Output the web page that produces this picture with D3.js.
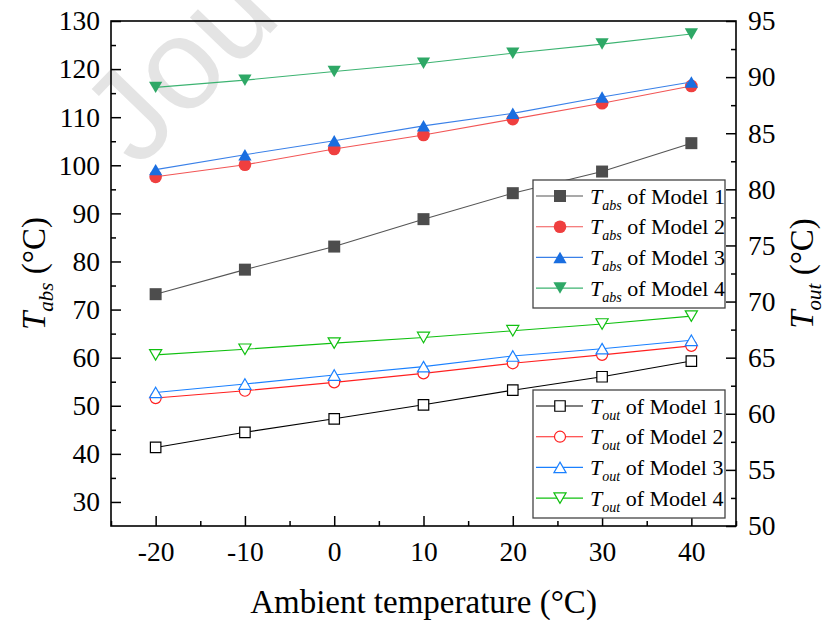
<!DOCTYPE html>
<html>
<head>
<meta charset="utf-8">
<script src="https://cdn.jsdelivr.net/npm/d3@7"></script>
<style>
  body { margin: 0; background: #fff; }
  text { font-family: "Liberation Serif", "Times New Roman", serif; }
</style>
</head>
<body>
<div id="chart"></div>
<script>
// Data
var temps = [-20, -10, 0, 10, 20, 30, 40];
var tabs1 = [73.2, 78.3, 83.1, 88.8, 94.2, 98.7, 104.6];
var tabs2 = [97.6, 100.1, 103.4, 106.3, 109.6, 112.9, 116.5];
var tabs3 = [99.1, 102.2, 105.1, 108.2, 110.8, 114.2, 117.3];
var tabs4 = [116.2, 117.7, 119.5, 121.2, 123.3, 125.2, 127.3];
var tout1 = [57.0, 58.35, 59.55, 60.8, 62.1, 63.3, 64.7];
var tout2 = [61.4, 62.05, 62.8, 63.6, 64.5, 65.25, 66.05];
var tout3 = [61.9, 62.65, 63.45, 64.2, 65.15, 65.8, 66.55];
var tout4 = [65.25, 65.75, 66.3, 66.8, 67.4, 68.0, 68.7];
var models = ["Model 1", "Model 2", "Model 3", "Model 4"];

var xTicks = [-20, -10, 0, 10, 20, 30, 40];
var xMinor = [-25, -15, -5, 5, 15, 25, 35, 45];
var yLeftTicks = [30, 40, 50, 60, 70, 80, 90, 100, 110, 120, 130];
var yLeftMinor = [35, 45, 55, 65, 75, 85, 95, 105, 115, 125];
var yRightTicks = [50, 55, 60, 65, 70, 75, 80, 85, 90, 95];
var yRightMinor = [52.5, 57.5, 62.5, 67.5, 72.5, 77.5, 82.5, 87.5, 92.5];

// SVG area
var svgWidth = 825;
var svgHeight = 620;
var plot = { left: 111, right: 736, top: 21, bottom: 526 };
var tickFont = 27.5;

var svg = d3.select("#chart")
    .append("svg")
    .attr("width", svgWidth)
    .attr("height", svgHeight);

// faint watermark behind everything
svg.append("text")
    .attr("transform", "translate(138,170) rotate(-46)")
    .style("font-family", "'Liberation Sans', Arial, sans-serif")
    .style("font-size", "130px")
    .attr("fill", "#e4e4e4")
    .text("Jou");

// scales
var x = d3.scaleLinear().domain([-25, 45]).range([plot.left, plot.right]);
var yL = d3.scaleLinear().domain([25, 130]).range([plot.bottom, plot.top]);
var yR = d3.scaleLinear().domain([50, 95]).range([plot.bottom, plot.top]);

var fmt = d => String(d);

function styleAxis(g) {
    g.select(".domain").remove();
    g.selectAll(".tick line").attr("stroke", "#000").attr("stroke-width", 1.5);
    g.selectAll(".tick text").attr("fill", "#000")
        .style("font-family", "'Liberation Serif', 'Times New Roman', serif")
        .style("font-size", tickFont + "px");
}

// bottom axis
svg.append("g")
    .attr("transform", `translate(0, ${plot.bottom})`)
    .call(d3.axisBottom(x).tickValues(xTicks).tickFormat(fmt).tickSize(-10).tickSizeOuter(0).tickPadding(15))
    .call(styleAxis);
svg.append("g")
    .attr("transform", `translate(0, ${plot.bottom})`)
    .call(d3.axisBottom(x).tickValues(xMinor).tickFormat("").tickSize(-5).tickSizeOuter(0))
    .call(styleAxis);

// left axis
svg.append("g")
    .attr("transform", `translate(${plot.left}, 0)`)
    .call(d3.axisLeft(yL).tickValues(yLeftTicks).tickFormat(fmt).tickSize(-10).tickSizeOuter(0).tickPadding(11))
    .call(styleAxis);
svg.append("g")
    .attr("transform", `translate(${plot.left}, 0)`)
    .call(d3.axisLeft(yL).tickValues(yLeftMinor).tickFormat("").tickSize(-5).tickSizeOuter(0))
    .call(styleAxis);

// right axis
svg.append("g")
    .attr("transform", `translate(${plot.right}, 0)`)
    .call(d3.axisRight(yR).tickValues(yRightTicks).tickFormat(fmt).tickSize(-10).tickSizeOuter(0).tickPadding(12))
    .call(styleAxis);
svg.append("g")
    .attr("transform", `translate(${plot.right}, 0)`)
    .call(d3.axisRight(yR).tickValues(yRightMinor).tickFormat("").tickSize(-5).tickSizeOuter(0))
    .call(styleAxis);

// frame
svg.append("rect")
    .attr("x", plot.left).attr("y", plot.top)
    .attr("width", plot.right - plot.left).attr("height", plot.bottom - plot.top)
    .attr("fill", "none").attr("stroke", "#000").attr("stroke-width", 1.6);

// series definitions
var absSeries = [
    { values: tabs1, line: "#555555", fill: "#4d4d4d", stroke: "none", type: d3.symbolSquare, size: 144, flip: false },
    { values: tabs2, line: "#f25555", fill: "#ef3f3f", stroke: "none", type: d3.symbolCircle, size: 125, flip: false },
    { values: tabs3, line: "#3a80e8", fill: "#1a6ee0", stroke: "none", type: d3.symbolTriangle, size: 76, flip: false },
    { values: tabs4, line: "#3cb371", fill: "#2ea866", stroke: "none", type: d3.symbolTriangle, size: 76, flip: true }
];
var outSeries = [
    { values: tout1, line: "#000000", fill: "#fff", stroke: "#000000", type: d3.symbolSquare, size: 110, flip: false },
    { values: tout2, line: "#ff2020", fill: "#fff", stroke: "#ff2020", type: d3.symbolCircle, size: 95, flip: false },
    { values: tout3, line: "#1a80ff", fill: "#fff", stroke: "#1a80ff", type: d3.symbolTriangle, size: 64, flip: false },
    { values: tout4, line: "#10c010", fill: "#fff", stroke: "#10c010", type: d3.symbolTriangle, size: 64, flip: true }
];

// triangles are centred on their bounding box, like the original plot
function markerTransform(s, px, py) {
    if (s.type === d3.symbolTriangle) {
        var h = Math.sqrt(s.size / (Math.sqrt(3) * 3));
        return s.flip ? `translate(${px},${py - h / 2}) rotate(180)` : `translate(${px},${py + h / 2})`;
    }
    return `translate(${px},${py})`;
}

function drawSeries(s, yScale) {
    var pts = temps.map((t, i) => [t, s.values[i]]);
    var line = d3.line().x(d => x(d[0])).y(d => yScale(d[1]));
    svg.append("path")
        .datum(pts)
        .attr("d", line)
        .attr("fill", "none")
        .attr("stroke", s.line)
        .attr("stroke-width", 1.1);
    svg.append("g")
        .selectAll("path")
        .data(pts)
        .enter()
        .append("path")
        .attr("d", d3.symbol().type(s.type).size(s.size))
        .attr("transform", d => markerTransform(s, x(d[0]), yScale(d[1])))
        .attr("fill", s.fill)
        .attr("stroke", s.stroke)
        .attr("stroke-width", 1.2);
}

absSeries.forEach(s => drawSeries(s, yL));
outSeries.forEach(s => drawSeries(s, yR));

// legends
function drawLegend(series, sub, top) {
    var box = { x: 533, y: top, w: 192, h: 128 };
    var g = svg.append("g");
    g.append("rect")
        .attr("x", box.x).attr("y", box.y).attr("width", box.w).attr("height", box.h)
        .attr("fill", "#fff").attr("stroke", "#444").attr("stroke-width", 1.3);
    series.forEach((s, i) => {
        var cy = box.y + 16 + i * 30.7;
        g.append("line")
            .attr("x1", box.x + 3).attr("x2", box.x + 50)
            .attr("y1", cy).attr("y2", cy)
            .attr("stroke", s.line).attr("stroke-width", 1.1);
        g.append("path")
            .attr("d", d3.symbol().type(s.type).size(s.size))
            .attr("transform", markerTransform(s, box.x + 27, cy))
            .attr("fill", s.fill)
            .attr("stroke", s.stroke)
            .attr("stroke-width", 1.2);
        var t = g.append("text")
            .attr("x", box.x + 57).attr("y", cy + 7.5)
            .style("font-size", "22px").attr("fill", "#000");
        t.append("tspan").style("font-style", "italic").text("T");
        t.append("tspan").style("font-style", "italic").style("font-size", "14px").attr("dy", 6).text(sub);
        t.append("tspan").attr("dy", -6).text(" of " + models[i]);
    });
}
drawLegend(absSeries, "abs", 180);
drawLegend(outSeries, "out", 390);

// axis titles
svg.append("text")
    .attr("x", (plot.left + plot.right) / 2)
    .attr("y", 613)
    .style("text-anchor", "middle")
    .style("font-size", "33px")
    .text("Ambient temperature (°C)");

function axisTitle(xPos, sub) {
    var t = svg.append("text")
        .attr("transform", `translate(${xPos}, ${(plot.top + plot.bottom) / 2}) rotate(-90)`)
        .style("text-anchor", "middle")
        .style("font-size", "33px");
    t.append("tspan").style("font-style", "italic").text("T");
    t.append("tspan").style("font-style", "italic").style("font-size", "21px").attr("dy", 8).text(sub);
    t.append("tspan").attr("dy", -8).text(" (°C)");
}
axisTitle(45, "abs");
axisTitle(813, "out");
</script>
</body>
</html>
